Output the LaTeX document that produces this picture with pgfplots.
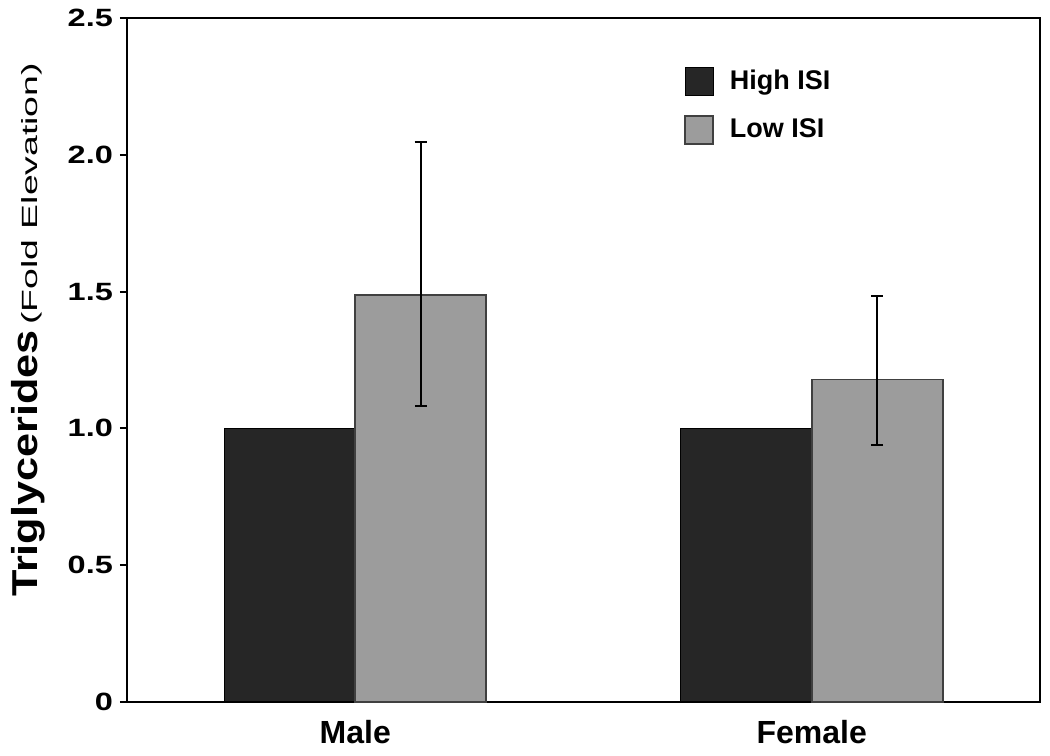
\documentclass[border=0pt]{standalone}
\usepackage{fontspec}
\setmainfont{Liberation Sans}
\usepackage{pgfplots}
\pgfplotsset{compat=1.18}
\definecolor{darkbar}{HTML}{262626}
\definecolor{lightbar}{HTML}{9C9C9C}
\begin{document}
\begin{tikzpicture}
\begin{axis}[
  width=456.5pt, height=342pt, scale only axis,
  ybar=0pt, bar width=65.5pt,
  xmin=-0.5, xmax=1.5, ymin=0, ymax=2.5,
  xtick={0,1}, xticklabels={Male,Female},
  ytick={0,0.5,1.0,1.5,2.0,2.5},
  yticklabels={0,0.5,1.0,1.5,2.0,2.5},
  ytick pos=left,
  axis line style={line width=1pt},
  tick align=outside, major tick length=3.5pt,
  every tick/.style={line width=1pt, black},
  x tick style={draw=none},
  xticklabel style={font=\fontsize{16}{18}\selectfont\bfseries, yshift=-2pt},
  yticklabel style={font=\fontsize{12.5}{15}\selectfont\bfseries\addfontfeature{FakeStretch=1.3}},
  ylabel={{\fontsize{18}{20}\selectfont\bfseries\addfontfeature{FakeStretch=1.2}Triglycerides} {\fontsize{11}{12}\selectfont\addfontfeature{FakeStretch=1.7}(Fold Elevation)}},
  ylabel style={at={(axis description cs:-0.108,0.544)}, anchor=center},
  clip=false,
  legend style={draw=none, fill=none, at={(rel axis cs:0.61,0.93)}, anchor=north west,
    inner sep=0pt, row sep=9pt, font=\fontsize{13.5}{15}\selectfont\bfseries,
    /tikz/every odd column/.append style={column sep=6pt}},
  legend cell align=left,
  legend image code/.code={\draw[#1] (0pt,-7pt) rectangle (14pt,7pt);},
  error bars/error bar style={line width=1pt, black},
  error bars/error mark options={line width=1pt, black, mark size=3pt, rotate=90},
]
\addplot[fill=darkbar, draw=black, line width=0.6pt] coordinates {(0,1.0) (1,1.0)};
\addplot[fill=lightbar, draw=black!75, line width=0.8pt,
  error bars/.cd, y dir=both, y explicit]
  coordinates {(0,1.487) += (0,0.56) -= (0,0.405) (1,1.179) += (0,0.304) -= (0,0.239)};
\legend{High ISI, Low ISI}
\path (rel axis cs:-0.1391,-0.0789) rectangle (rel axis cs:1.011,1.0263);
\end{axis}
\end{tikzpicture}
\end{document}
